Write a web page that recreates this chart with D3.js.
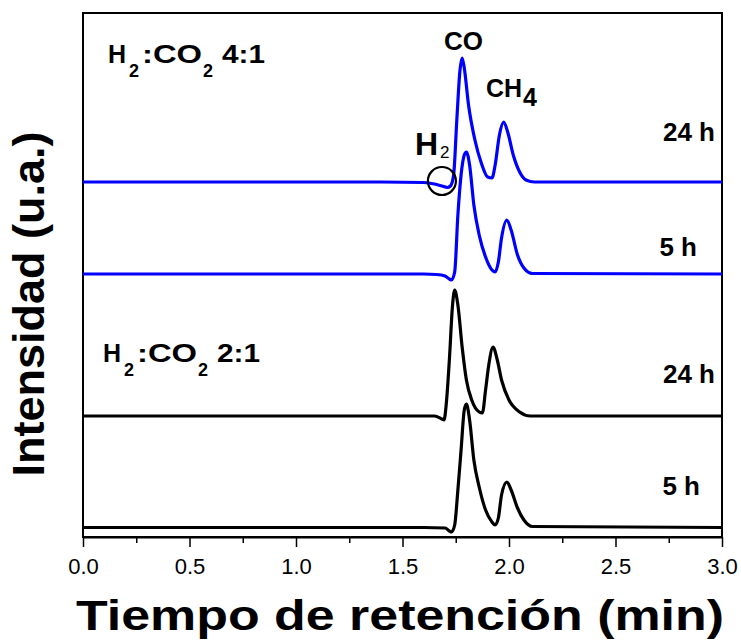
<!DOCTYPE html>
<html><head><meta charset="utf-8">
<script src="https://cdn.jsdelivr.net/npm/d3@7"></script>
<style>
html,body{margin:0;padding:0;background:#fff;}
svg text{font-family:"Liberation Sans", Arial, sans-serif;fill:#000;}
</style></head>
<body><svg id="chart" width="741" height="641"></svg>
<script>
// Retention time (min) and intensity (a.u., offset stacked) for each chromatogram
const t_blue24 = [0,1.40,1.60,1.65,1.685,1.71,1.725,1.74,1.755,1.77,1.78,1.79,1.81,1.84,1.87,1.90,1.92,1.935,1.955,1.975,1.995,2.02,2.05,2.08,2.12,3.0];
const v_blue24 = [355,355,354.5,353,351,349.5,351,362,417,467,479,469,432,397,374,360,359,372,402,415,404,382,365,357,355,355];

const t_blue5 = [0,1.60,1.66,1.70,1.72,1.73,1.745,1.76,1.775,1.79,1.80,1.815,1.835,1.86,1.89,1.92,1.935,1.95,1.965,1.99,2.01,2.04,2.07,2.11,3.0];
const v_blue5 = [263,263,262.5,261,258,257,265,322,362,382,385,372,332,302,280,267,265,275,299,317,307,282,269,263.5,263];

const t_black24 = [0,1.55,1.65,1.685,1.695,1.705,1.72,1.735,1.745,1.76,1.78,1.80,1.825,1.86,1.875,1.89,1.905,1.925,1.945,1.965,2.00,2.05,2.10,3.0];
const v_black24 = [121,121,121,118,117,132,177,232,247,232,190,157,137,125,124,147,172,190,177,157,137,125,121,121];

const t_black5 = [0,1.60,1.70,1.72,1.73,1.745,1.76,1.775,1.79,1.80,1.815,1.835,1.86,1.89,1.92,1.935,1.95,1.965,1.99,2.01,2.04,2.07,2.11,3.0];
const v_black5 = [9.5,9.5,9,6,5,12,47,87,127,133,117,77,50,27,15,12,19,42,55,47,29,17,10.5,9.5];

const seriesNames = ["24 h (4:1)","5 h (4:1)","24 h (2:1)","5 h (2:1)"];
const seriesColors = ["#0000ff","#0000ff","#000000","#000000"];
const timeLabels = ["24 h","5 h","24 h","5 h"];
const xTicks = [0,0.5,1.0,1.5,2.0,2.5,3.0];
const xMinorTicks = [0.25,0.75,1.25,1.75,2.25,2.75];

const series = [
  {t:t_blue24, v:v_blue24},
  {t:t_blue5, v:v_blue5},
  {t:t_black24, v:v_black24},
  {t:t_black5, v:v_black5}
];

const svg = d3.select("#chart");
const L=83, R=722, T=13, B=537;
const x = d3.scaleLinear().domain([0,3]).range([L,R]);
const y = d3.scaleLinear().domain([0,524]).range([B,T]);

// frame
svg.append("rect").attr("x",L).attr("y",T).attr("width",R-L).attr("height",B-T)
  .attr("fill","none").attr("stroke","#000").attr("stroke-width",2);

// x axis
const ax = svg.append("g").attr("transform",`translate(0,${B})`)
  .call(d3.axisBottom(x).tickValues(xTicks).tickFormat(d3.format(".1f")).tickSize(10).tickSizeOuter(0));
ax.attr("font-size",null);
ax.select(".domain").attr("stroke-width",2);
ax.selectAll(".tick line").attr("stroke-width",1.5);
ax.selectAll(".tick text").style("font-size","22px").attr("dy",null).attr("y",37);
const axm = svg.append("g").attr("transform",`translate(0,${B})`)
  .call(d3.axisBottom(x).tickValues(xMinorTicks).tickFormat("").tickSize(6).tickSizeOuter(0));
axm.select(".domain").remove();
axm.selectAll(".tick line").attr("stroke-width",1.5);

// lines
const line = d3.line().x(d=>x(d[0])).y(d=>y(d[1])).curve(d3.curveMonotoneX);
series.forEach((s,i)=>{
  const pts = s.t.map((tt,j)=>[tt,s.v[j]]);
  svg.append("path").datum(pts).attr("d",line).attr("fill","none")
    .attr("stroke",seriesColors[i]).attr("stroke-width",3.2).attr("stroke-linejoin","round");
});

// time labels (right aligned)
const labelY = [141, 256, 383, 495];
const labelR = [715, 697, 715, 700];
timeLabels.forEach((lab,i)=>{
  svg.append("text").attr("x",labelR[i]).attr("y",labelY[i]).attr("text-anchor","end")
    .attr("font-size",26).attr("font-weight","bold").text(lab);
});

// composition labels
function ratioLabel(x0,yb,ratio){
  const g = svg.append("g");
  g.append("text").attr("x",x0).attr("y",yb).attr("font-size",25).attr("font-weight","bold").text("H");
  g.append("text").attr("x",x0+21).attr("y",yb+14).attr("font-size",18).attr("font-weight","bold").text("2");
  g.append("text").attr("x",x0+34).attr("y",yb).attr("font-size",25).attr("font-weight","bold")
    .attr("textLength",60).attr("lengthAdjust","spacingAndGlyphs").text(":CO");
  g.append("text").attr("x",x0+95).attr("y",yb+14).attr("font-size",18).attr("font-weight","bold").text("2");
  g.append("text").attr("x",x0+114).attr("y",yb).attr("font-size",25).attr("font-weight","bold")
    .attr("textLength",43).attr("lengthAdjust","spacingAndGlyphs").text(ratio);
}
ratioLabel(108,63,"4:1");
ratioLabel(103,362,"2:1");

// peak labels
svg.append("text").attr("x",444).attr("y",50).attr("font-size",26).attr("font-weight","bold").text("CO");
svg.append("text").attr("x",486).attr("y",97).attr("font-size",25).attr("font-weight","bold").text("CH");
svg.append("text").attr("x",523).attr("y",106).attr("font-size",25).attr("font-weight","bold").text("4");
svg.append("text").attr("x",415).attr("y",155).attr("font-size",32).attr("font-weight","bold").text("H");
svg.append("text").attr("x",440).attr("y",158).attr("font-size",17).text("2");
svg.append("ellipse").attr("cx",x(1.685)).attr("cy",y(356)).attr("rx",14).attr("ry",14)
  .attr("fill","none").attr("stroke","#000").attr("stroke-width",2.2);

// axis titles
svg.append("text").attr("x",400).attr("y",630).attr("text-anchor","middle")
  .attr("font-size",43).attr("font-weight","bold").attr("textLength",648).attr("lengthAdjust","spacingAndGlyphs")
  .text("Tiempo de retención (min)");
svg.append("text").attr("transform","translate(44,304) rotate(-90)").attr("text-anchor","middle")
  .attr("font-size",45).attr("font-weight","bold").text("Intensidad (u.a.)");
</script></body></html>
